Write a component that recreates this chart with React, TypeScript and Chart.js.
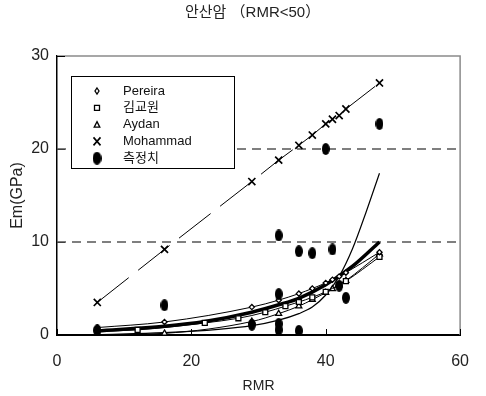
import React, { useEffect, useRef } from "react";
import { Chart, registerables } from "chart.js";

Chart.register(...registerables);

// ---- chart data -------------------------------------------------------
const TITLE = "안산암 （RMR<50）";
const X_LABEL = "RMR";
const Y_LABEL = "Em(GPa)";
const X_TICKS = [0, 20, 40, 60];
const Y_TICKS = [0, 10, 20, 30];
const LIMIT_LINES = [10, 20];
const LEGEND_LABELS = ["Pereira", "김교원", "Aydan", "Mohammad", "측정치"];

const RMR = [6, 16, 29, 33, 36, 38, 40, 41, 42, 43, 48];
const PEREIRA = [0.8, 1.4, 3.0, 3.75, 4.45, 5.0, 5.6, 5.95, 6.3, 6.7, 8.9];
const AYDAN = [0.02, 0.18, 1.45, 2.3, 3.1, 3.8, 4.55, 4.95, 5.4, 5.85, 8.7];
const MOHAMMAD = [3.5, 9.2, 16.5, 18.8, 20.4, 21.5, 22.7, 23.2, 23.6, 24.3, 27.1];

const KIM_RMR = [6, 12, 22, 27, 31, 34, 36, 38, 40, 42, 43, 48];
const KIM = [0.4, 0.55, 1.3, 1.8, 2.45, 3.1, 3.55, 4.05, 4.65, 5.4, 5.8, 8.4];

const MEASURED_RMR = [6, 16, 29, 33, 33, 33, 33, 36, 36, 38, 40, 41, 42, 43, 48];
const MEASURED = [0.5, 3.2, 1.1, 10.7, 4.4, 1.2, 0.55, 9.0, 0.45, 8.8, 20.0, 9.2, 5.3, 4.0, 22.7];

// bold trend curve
const TREND_RMR = [6, 16, 22, 29, 33, 36, 40, 44, 48];
const TREND = [0.45, 0.95, 1.45, 2.45, 3.25, 3.95, 5.4, 7.4, 10.0];

// steep regression curve of the measured values
const FIT_RMR = [6, 16, 24, 29, 33, 36, 38, 40, 42, 44, 46, 48];
const FIT = [0.05, 0.25, 0.6, 1.0, 1.6, 2.3, 3.0, 4.3, 6.3, 9.3, 13.2, 17.4];

// ---- styling ----------------------------------------------------------
const W = 486;
const H = 396;
const LATIN = "'Liberation Sans', Arial, 'Noto Sans CJK KR', sans-serif";

const zip = (xs: number[], ys: number[]) => xs.map((x, i) => ({ x, y: ys[i] }));

function ellipseMarker(w: number, h: number): HTMLCanvasElement {
  const c = document.createElement("canvas");
  c.width = w;
  c.height = h;
  const g = c.getContext("2d")!;
  g.fillStyle = "#000";
  g.beginPath();
  g.ellipse(w / 2, h / 2, w / 2, h / 2, 0, 0, Math.PI * 2);
  g.fill();
  return c;
}

function drawLegendMarker(ctx: CanvasRenderingContext2D, kind: number, x: number, y: number, dot: HTMLCanvasElement) {
  ctx.save();
  ctx.strokeStyle = "#000";
  ctx.fillStyle = "#fff";
  ctx.lineWidth = 1.3;
  ctx.beginPath();
  if (kind === 0) {
    ctx.moveTo(x, y - 3);
    ctx.lineTo(x + 2, y);
    ctx.lineTo(x, y + 3);
    ctx.lineTo(x - 2, y);
    ctx.closePath();
    ctx.fill();
    ctx.stroke();
  } else if (kind === 1) {
    ctx.rect(x - 2.5, y - 2.5, 5, 5);
    ctx.fill();
    ctx.stroke();
  } else if (kind === 2) {
    ctx.moveTo(x, y - 3);
    ctx.lineTo(x + 2.8, y + 2.5);
    ctx.lineTo(x - 2.8, y + 2.5);
    ctx.closePath();
    ctx.fill();
    ctx.stroke();
  } else if (kind === 3) {
    ctx.lineWidth = 1.6;
    ctx.moveTo(x - 3.5, y - 4);
    ctx.lineTo(x + 3.5, y + 4);
    ctx.moveTo(x + 3.5, y - 4);
    ctx.lineTo(x - 3.5, y + 4);
    ctx.stroke();
  } else {
    ctx.drawImage(dot, x - dot.width / 2, y - dot.height / 2);
  }
  ctx.restore();
}

export default function App() {
  const ref = useRef<HTMLCanvasElement | null>(null);

  useEffect(() => {
    document.body.style.margin = "0";
    const canvas = ref.current;
    if (!canvas) return;

    const dot = ellipseMarker(8, 12);
    const legendDot = ellipseMarker(9, 13);

    const framePlugin = {
      id: "frame",
      beforeDatasetsDraw(chart: any) {
        const { ctx, chartArea: a, scales } = chart;
        ctx.save();
        // grey top and right border of the plot
        ctx.strokeStyle = "#8a8a8a";
        ctx.lineWidth = 1.5;
        ctx.beginPath();
        ctx.moveTo(a.left, a.top);
        ctx.lineTo(a.right, a.top);
        ctx.lineTo(a.right, a.bottom);
        ctx.stroke();
        // inward tick marks
        ctx.strokeStyle = "#000";
        ctx.lineWidth = 1;
        ctx.beginPath();
        X_TICKS.forEach((t) => {
          const px = Math.round(scales.x.getPixelForValue(t)) + 0.5;
          ctx.moveTo(px, a.bottom);
          ctx.lineTo(px, a.bottom - 6);
        });
        Y_TICKS.forEach((t) => {
          const py = Math.round(scales.y.getPixelForValue(t)) + 0.5;
          ctx.moveTo(a.left, py);
          ctx.lineTo(a.left + 8, py);
        });
        ctx.stroke();
        ctx.restore();
      },
      afterDraw(chart: any) {
        const { ctx } = chart;
        ctx.save();
        // title
        ctx.fillStyle = "#222";
        ctx.font = `15px ${LATIN}`;
        ctx.textAlign = "left";
        ctx.textBaseline = "middle";
        ctx.fillText(TITLE, 185, 13);

        // legend box
        const bx = 71, by = 76, bw = 163, bh = 92;
        ctx.fillStyle = "#fff";
        ctx.fillRect(bx, by, bw, bh);
        ctx.strokeStyle = "#000";
        ctx.lineWidth = 1;
        ctx.strokeRect(bx + 0.5, by + 0.5, bw, bh);
        ctx.font = `13px ${LATIN}`;
        LEGEND_LABELS.forEach((label, i) => {
          const y = 91 + i * 16.8;
          drawLegendMarker(ctx, i, 97, y, legendDot);
          ctx.fillStyle = "#111";
          ctx.fillText(label, 123, y);
        });
        ctx.restore();
      },
    };

    const markerLine = {
      borderColor: "#000",
      backgroundColor: "#fff",
      pointBorderColor: "#000",
      pointBackgroundColor: "#fff",
      borderWidth: 1,
      pointBorderWidth: 1.3,
      showLine: true,
      cubicInterpolationMode: "monotone" as const,
    };

    const chart = new Chart(canvas, {
      type: "scatter",
      data: {
        datasets: [
          {
            label: "측정치",
            data: zip(MEASURED_RMR, MEASURED),
            pointStyle: dot,
            pointRadius: 5,
            showLine: false,
          },
          {
            label: "Mohammad",
            data: zip(RMR, MOHAMMAD),
            showLine: true,
            borderColor: "#000",
            borderWidth: 1,
            borderDash: [40, 12],
            pointStyle: "crossRot",
            pointRadius: 5,
            pointBorderColor: "#000",
            pointBorderWidth: 1.7,
          },
          {
            label: "Pereira",
            data: zip(RMR, PEREIRA),
            ...markerLine,
            pointStyle: "rectRot",
            pointRadius: 2.6,
          },
          {
            label: "김교원",
            data: zip(KIM_RMR, KIM),
            ...markerLine,
            pointStyle: "rect",
            pointRadius: 3.5,
          },
          {
            label: "Aydan",
            data: zip(RMR, AYDAN),
            ...markerLine,
            pointStyle: "triangle",
            pointRadius: 3.4,
          },
          {
            label: "trend",
            data: zip(TREND_RMR, TREND),
            showLine: true,
            borderColor: "#000",
            borderWidth: 3.5,
            pointRadius: 0,
            cubicInterpolationMode: "monotone",
          },
          {
            label: "fit",
            data: zip(FIT_RMR, FIT),
            showLine: true,
            borderColor: "#000",
            borderWidth: 1.2,
            pointRadius: 0,
            cubicInterpolationMode: "monotone",
          },
          ...LIMIT_LINES.map((v) => ({
            label: `limit ${v}`,
            data: [
              { x: X_TICKS[0], y: v },
              { x: X_TICKS[X_TICKS.length - 1], y: v },
            ],
            showLine: true,
            borderColor: "#555",
            borderWidth: 1.3,
            borderDash: [9, 6],
            pointRadius: 0,
          })),
        ],
      },
      options: {
        animation: false,
        responsive: false,
        devicePixelRatio: 1,
        layout: { padding: { left: 0, right: 17, top: 56, bottom: 0 } },
        plugins: {
          legend: { display: false },
          tooltip: { enabled: false },
          title: { display: false },
        },
        scales: {
          x: {
            type: "linear",
            min: X_TICKS[0],
            max: X_TICKS[X_TICKS.length - 1],
            afterBuildTicks: (s: any) => {
              s.ticks = X_TICKS.map((value) => ({ value }));
            },
            afterFit: (s: any) => {
              s.height = 61;
            },
            grid: { display: false, drawTicks: false },
            border: { display: true, color: "#000", width: 2 },
            ticks: {
              color: "#222",
              padding: 17,
              maxRotation: 0,
              font: { family: LATIN, size: 16 },
            },
            title: {
              display: true,
              text: X_LABEL,
              color: "#222",
              padding: { top: 0, bottom: 1 },
              font: { family: LATIN, size: 14 },
            },
          },
          y: {
            type: "linear",
            min: Y_TICKS[0],
            max: Y_TICKS[Y_TICKS.length - 1],
            afterBuildTicks: (s: any) => {
              s.ticks = Y_TICKS.map((value) => ({ value }));
            },
            afterFit: (s: any) => {
              s.width = 57;
            },
            grid: { display: false, drawTicks: false },
            border: { display: true, color: "#000", width: 1.5 },
            ticks: {
              color: "#222",
              padding: 8,
              font: { family: LATIN, size: 16 },
            },
            title: {
              display: true,
              text: Y_LABEL,
              color: "#222",
              padding: { top: 8, bottom: 0 },
              font: { family: LATIN, size: 16 },
            },
          },
        },
      },
      plugins: [framePlugin],
    } as any);

    return () => chart.destroy();
  }, []);

  return (
    <div style={{ width: W, height: H, background: "#fff" }}>
      <canvas ref={ref} width={W} height={H} style={{ display: "block" }} />
    </div>
  );
}
